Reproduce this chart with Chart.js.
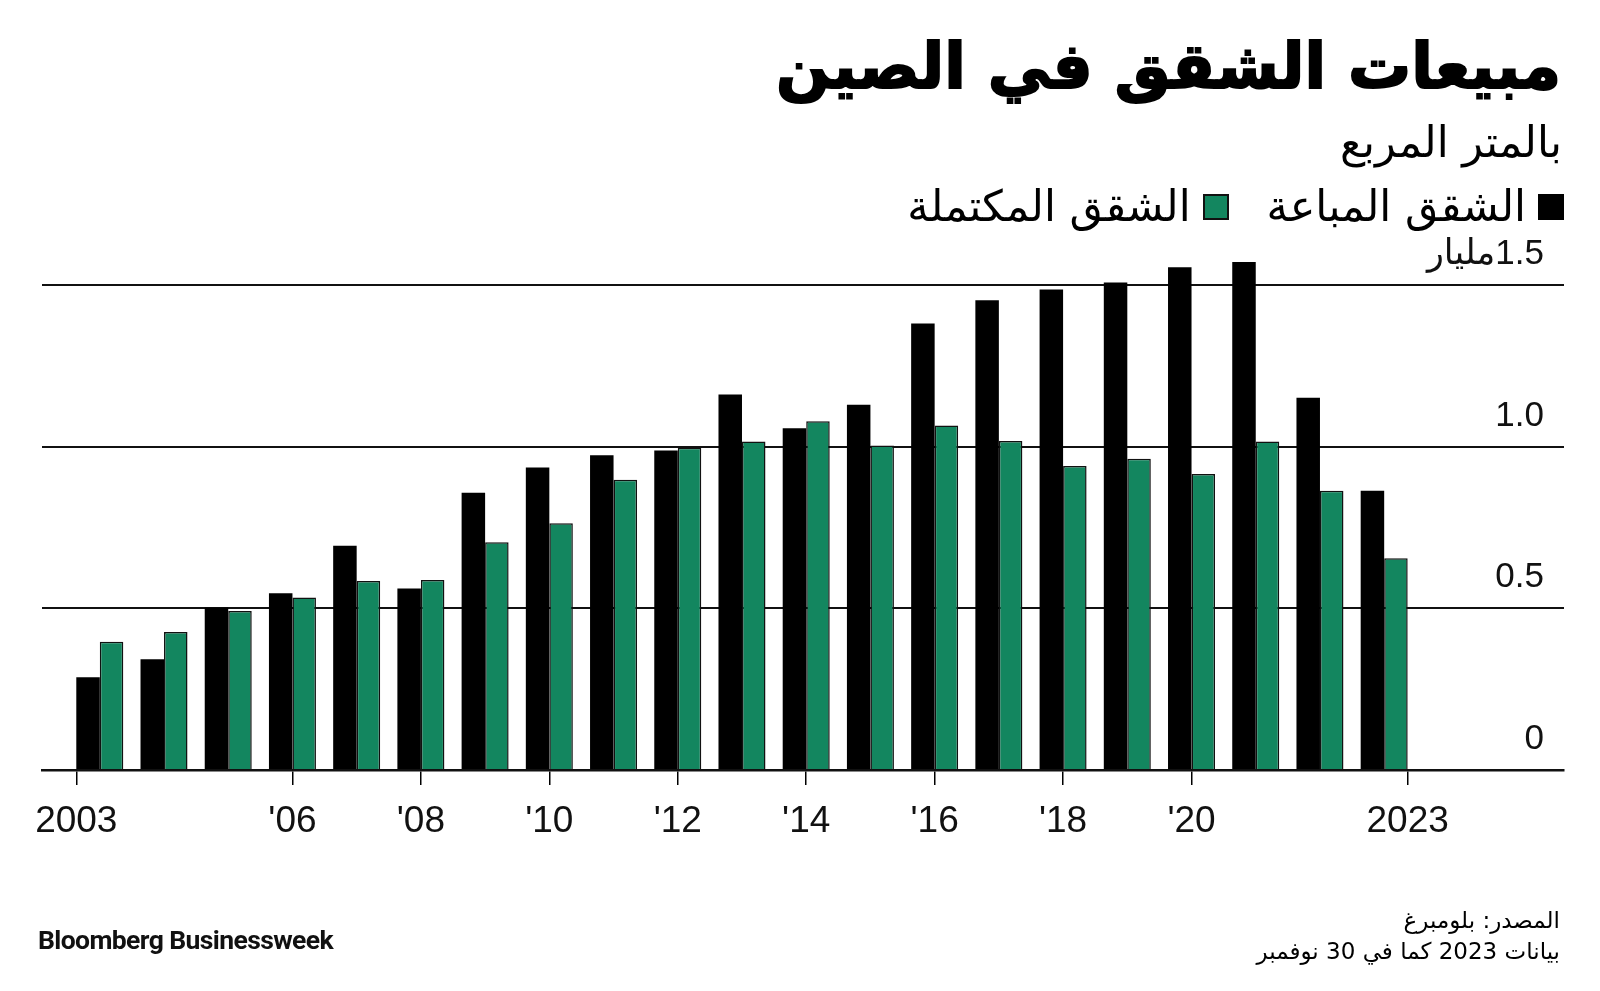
<!DOCTYPE html>
<html><head><meta charset="utf-8">
<script src="https://cdn.jsdelivr.net/npm/chart.js@4.4.0/dist/chart.umd.min.js"></script>
<style>
html,body{margin:0;padding:0;background:#fff;width:1600px;height:991px;overflow:hidden;}
#wrap{position:absolute;left:0;top:0;width:1600px;height:991px;}
.ar{position:absolute;direction:rtl;text-align:right;font-family:"DejaVu Sans",sans-serif;color:#000;white-space:nowrap;line-height:1;}
#title{right:39px;top:35px;font-size:63px;font-weight:bold;-webkit-text-stroke:2px #000;}
#sub{right:38px;top:121px;font-size:43px;}
#legend{right:36px;top:185px;font-size:43px;display:flex;align-items:center;gap:0;}
.sq{display:inline-block;width:26px;height:26px;box-sizing:border-box;margin-left:12px;}
.item{display:flex;align-items:center;margin-left:38px;}
#src{right:40px;top:905px;font-size:23px;line-height:1.36;}
#brand{position:absolute;left:38px;top:924px;font-family:Roboto,"Liberation Sans",sans-serif;font-weight:bold;font-size:26.5px;letter-spacing:-0.6px;color:#111;}
</style></head>
<body>
<div id="wrap"><canvas id="c" width="1600" height="991"></canvas></div>
<div class="ar" id="title">مبيعات الشقق في الصين</div>
<div class="ar" id="sub">بالمتر المربع</div>
<div class="ar" id="legend">
  <span class="item"><span class="sq" style="background:#000"></span><span>الشقق المباعة</span></span>
  <span class="item"><span class="sq" style="background:#13865f;border:2px solid #111"></span><span>الشقق المكتملة</span></span>
</div>
<div class="ar" id="src">المصدر: بلومبرغ<br>بيانات 2023 كما في 30 نوفمبر</div>
<div id="brand">Bloomberg Businessweek</div>
<script>
const years = [2003,2004,2005,2006,2007,2008,2009,2010,2011,2012,2013,2014,2015,2016,2017,2018,2019,2020,2021,2022,2023];
const soldApartments = [0.287,0.343,0.503,0.547,0.694,0.562,0.858,0.936,0.974,0.989,1.162,1.058,1.130,1.382,1.454,1.487,1.509,1.556,1.572,1.152,0.864];
const completedApartments = [0.397,0.427,0.492,0.534,0.585,0.588,0.705,0.764,0.898,0.997,1.017,1.079,1.004,1.066,1.018,0.941,0.963,0.916,1.017,0.864,0.655];
const xTickYears = [2003,2006,2008,2010,2012,2014,2016,2018,2020,2023];
const xTickLabels = ['2003',"'06","'08","'10","'12","'14","'16","'18","'20",'2023'];
const yTickValues = [0,0.5,1.0,1.5];
const yTickLabels = ['0','0.5','1.0','\u200F1.5مليار'];
const seriesNames = ['الشقق المباعة','الشقق المكتملة'];

const CAT_PCT = 0.732;
const half = CAT_PCT/2;

new Chart(document.getElementById('c'), {
  type: 'bar',
  data: {
    datasets: [
      {label: seriesNames[0], data: years.map((y,i)=>({x:y,y:soldApartments[i]})), backgroundColor:'#000', borderWidth:0},
      {label: seriesNames[1], data: years.map((y,i)=>({x:y,y:completedApartments[i]})), backgroundColor:'#13865f', borderColor:'#111', borderWidth:1.5}
    ]
  },
  options: {
    responsive:false, animation:false, devicePixelRatio:1,
    categoryPercentage: CAT_PCT, barPercentage: 1.0,
    layout:{padding:{left:42,right:36,top:253,bottom:0}},
    plugins:{legend:{display:false},tooltip:{enabled:false}},
    scales:{
      x:{
        type:'linear', min:2002.1, max:2025.8, offset:false,
        grid:{offset:false, drawOnChartArea:false, drawTicks:true, tickLength:15, color:'#000', lineWidth:1.5},
        border:{display:true, color:'#111', width:2.5},
        afterBuildTicks: s => {
          s.ticks = xTickYears.map((y,i)=>({value: i===0 ? y-half : (i===xTickYears.length-1 ? y+half : y)}));
        },
        afterFit: s => { s.height = 991-770; },
        ticks:{autoSkip:false, maxRotation:0, padding:15, color:'#111',
          font:{family:'"Liberation Sans", Arial, sans-serif', size:37},
          callback:(v,i)=>xTickLabels[i]}
      },
      y:{
        type:'linear', position:'right', min:0, max:1.6,
        grid:{drawTicks:false, color:'#111', lineWidth:2},
        border:{display:false},
        afterBuildTicks: s => { s.ticks = yTickValues.map(v=>({value:v})); },
        afterFit: s => { s.width = 0; },
        ticks:{mirror:true, padding:-20, labelOffset:-31, color:'#111',
          font:{family:'"Liberation Sans", "DejaVu Sans", sans-serif', size:35},
          callback:(v,i)=>yTickLabels[i]}
      }
    }
  }
});
</script>
</body></html>
